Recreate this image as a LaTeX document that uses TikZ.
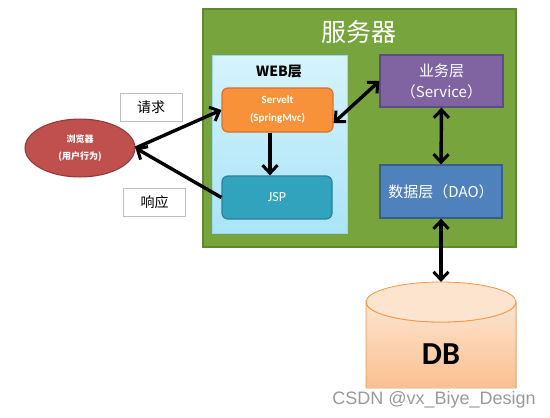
\documentclass[tikz,border=0pt]{standalone}
\usepackage{fontspec}
\setmainfont{Carlito}
\newfontfamily\cjk{Noto Sans CJK SC}
\newfontfamily\wm{Liberation Sans}
\usetikzlibrary{arrows.meta,shapes.geometric}
\definecolor{srvgreen}{HTML}{77A43C}
\definecolor{srvgreenD}{HTML}{5E8A2E}
\definecolor{weblight}{HTML}{D6F3FC}
\definecolor{webdeep}{HTML}{A9E4F7}
\definecolor{webborder}{HTML}{9ED8EE}
\definecolor{orng}{HTML}{F7913A}
\definecolor{orngD}{HTML}{D9722A}
\definecolor{teal}{HTML}{31A3BC}
\definecolor{tealD}{HTML}{2A8099}
\definecolor{purp}{HTML}{8064A2}
\definecolor{purpD}{HTML}{5F4B8B}
\definecolor{blu}{HTML}{4F81BD}
\definecolor{bluD}{HTML}{385D8A}
\definecolor{brred}{HTML}{C0504D}
\definecolor{brredD}{HTML}{8C3836}
\definecolor{peachL}{HTML}{FDE4CF}
\definecolor{peachD}{HTML}{FAC090}
\definecolor{peachB}{HTML}{F79646}
\tikzset{
  box/.style={draw, line width=1.2pt, inner sep=0pt, align=center},
  label box/.style={draw=gray!50, fill=white, line width=0.8pt, inner sep=0pt, minimum width=62pt, minimum height=28pt, font=\cjk\fontsize{14}{15}\selectfont},
  tip/.tip={Straight Barb[length=8pt,width=15pt,line width=3pt]},
  conn/.style={line width=3.4pt, black, -tip},
  bconn/.style={line width=3.4pt, black, tip-tip},
}
\begin{document}
\begin{tikzpicture}[x=1pt,y=-1pt]
\useasboundingbox (0,0) rectangle (550,418);
% server
\node[box, draw=srvgreenD, fill=srvgreen, minimum width=313pt, minimum height=238pt] (server) at (359.5,128) {};
\node[text=white, font=\cjk\fontsize{25}{27}\selectfont] (srvtitle) at (359,32) {服务器};
% web layer
\node[box, draw=webborder, top color=weblight, bottom color=webdeep, line width=1pt, minimum width=135pt, minimum height=178pt] (web) at (279.5,144) {};
\node[font=\cjk\bfseries\fontsize{14}{15}\selectfont] (webtitle) at (279,72) {WEB层};
% servlet
\node[box, draw=orngD, fill=orng, rounded corners=6pt, minimum width=111pt, minimum height=44pt, text=white, font=\bfseries\fontsize{11}{18}\selectfont] (servlet) at (277.5,110) {Servelt\\(SpringMvc)};
% jsp
\node[box, draw=tealD, fill=teal, rounded corners=6pt, minimum width=110pt, minimum height=43pt, text=white, font=\fontsize{14}{15}\selectfont] (jsp) at (277,197.5) {JSP};
% business
\node[box, draw=purpD, fill=purp, minimum width=123pt, minimum height=52pt, text=white, font=\cjk\fontsize{15}{21}\selectfont] (biz) at (441.5,81) {业务层\\（Service）};
% data
\node[box, draw=bluD, fill=blu, minimum width=122pt, minimum height=53pt, text=white, font=\cjk\fontsize{15}{16}\selectfont] (data) at (441,191.5) {数据层（DAO）};
% browser
\node[ellipse, draw=brredD, fill=brred, line width=1pt, minimum width=110pt, minimum height=58pt, inner sep=0pt, align=center, text=white, font=\cjk\bfseries\fontsize{9}{17}\selectfont] (browser) at (80,148) {浏览器\\(用户行为)};
% labels
\node[label box] (req) at (151,107.5) {请求};
\node[label box] (resp) at (154.5,202.5) {响应};
% DB cylinder
\fill[top color=peachL, bottom color=peachD] (366,302) arc[start angle=180,end angle=360,x radius=75pt,y radius=20pt] -- (516,388) -- (366,388) -- cycle;
\draw[peachB, line width=0.8pt] (366,388) -- (366,302) arc[start angle=180,end angle=360,x radius=75pt,y radius=20pt] -- (516,388);
\fill[peachL] (441,302) ellipse[x radius=75pt, y radius=20pt];
\draw[peachB, line width=0.8pt] (441,302) ellipse[x radius=75pt, y radius=20pt];
\coordinate (dbtop) at (441,282);
\node[font=\bfseries\fontsize{32}{34}\selectfont] (db) at (441,354) {DB};
% watermark
\node[text=gray!80, font=\wm\fontsize{18}{19}\selectfont] (wmark) at (434,400) {CSDN @vx\_Biye\_Design};
% connectors
\draw[conn] (browser.east) -- (servlet.west);
\draw[conn] (jsp.west) -- (browser.east);
\draw[bconn] (servlet.east |- 0,123) -- (biz.west |- 0,81);
\draw[conn] (servlet.south -| 270,0) -- (jsp.north -| 270,0);
\draw[bconn] (biz.south) -- (data.north);
\draw[bconn] (data.south) -- (dbtop);
\end{tikzpicture}
\end{document}
